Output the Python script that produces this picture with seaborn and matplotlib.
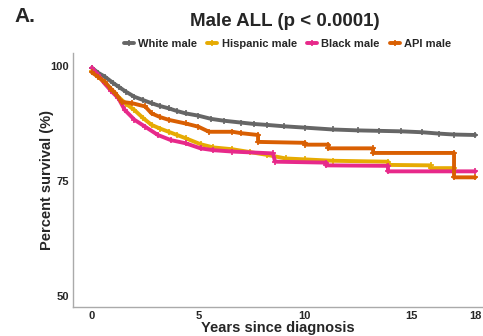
import numpy as np
import pandas as pd
import seaborn as sns
import matplotlib.pyplot as plt

sns.set_style("white")
plt.rcParams['font.family'] = ['Liberation Sans', 'DejaVu Sans']
plt.rcParams['font.weight'] = 'bold'

groups = ["White male", "Hispanic male", "Black male", "API male"]
colors = ["#666666", "#E6AB02", "#E7298A", "#D95F02"]

# survival curves (repeated times = vertical steps)
white_t = [0, 0.3, 0.6, 1.0, 1.25, 1.6, 2.0, 2.4, 2.8, 3.2, 3.6, 4.0, 4.4, 5.0, 5.6, 6.2,
           7.0, 7.6, 8.2, 9.0, 10.0, 11.3, 12.5, 13.5, 14.5, 15.5, 16.3, 17.0, 18.0]
white_s = [99.6, 98.5, 97.7, 96.3, 95.5, 94.4, 93.3, 92.6, 91.9, 91.3, 90.8, 90.2, 89.7, 89.2, 88.5, 88.1,
           87.7, 87.4, 87.2, 86.9, 86.6, 86.2, 86.0, 85.9, 85.8, 85.6, 85.3, 85.1, 85.0]

hisp_t = [0, 0.3, 0.6, 0.9, 1.24, 1.6, 2.0, 2.4, 2.8, 3.2, 3.6, 4.0, 4.4, 5.1, 5.7, 6.6,
          7.4, 8.2, 9.1, 10.0, 11.3, 13.9, 13.9, 15.9, 15.9, 17.0]
hisp_s = [98.8, 97.8, 96.2, 94.8, 93.3, 91.8, 90.4, 88.7, 87.2, 86.4, 85.7, 85.0, 84.3, 83.0, 82.3, 81.9,
          81.3, 80.7, 79.9, 79.7, 79.4, 79.2, 78.5, 78.4, 77.8, 77.8]

black_t = [0, 0.3, 0.6, 0.9, 1.24, 1.55, 2.0, 2.5, 3.1, 3.7, 4.4, 5.1, 5.7, 6.6, 8.5, 8.6,
           11.0, 11.0, 13.9, 13.9, 18.0]
black_s = [99.6, 98.0, 96.2, 94.6, 93.0, 90.4, 88.3, 86.8, 85.0, 83.9, 83.2, 82.1, 81.7, 81.4, 81.0, 79.2,
           79.0, 78.4, 78.3, 77.1, 77.1]

api_t = [0, 0.3, 0.6, 0.9, 1.1, 1.4, 1.9, 2.5, 2.8, 3.2, 3.6, 4.4, 5.0, 5.5, 6.6, 7.0,
         7.8, 7.8, 10.0, 10.0, 11.1, 11.1, 13.2, 13.2, 17.0, 17.0, 18.0]
api_s = [98.6, 97.6, 96.6, 95.0, 94.1, 92.2, 91.9, 91.2, 89.7, 88.9, 88.3, 87.5, 86.8, 85.7, 85.7, 85.4,
         85.0, 83.5, 83.3, 82.9, 82.9, 82.1, 82.1, 81.1, 81.1, 75.8, 75.8]

frames = []
for g, t, s in zip(groups, [white_t, hisp_t, black_t, api_t], [white_s, hisp_s, black_s, api_s]):
    frames.append(pd.DataFrame({"years": t, "survival": s, "group": g}))
df = pd.concat(frames, ignore_index=True)

fig = plt.figure(figsize=(4.83, 3.36), dpi=100)
ax = fig.add_axes([0.151, 0.086, 0.849, 0.756])

sns.lineplot(data=df, x="years", y="survival", hue="group", hue_order=groups,
             palette=colors, estimator=None, sort=False, linewidth=2.8,
             marker="+", markersize=5, markeredgewidth=1.2, ax=ax)
for ln in ax.lines:
    ln.set_markeredgecolor(ln.get_color())

ax.set_xlim(-0.89, 18.36)
ax.set_ylim(47.6, 102.8)
ax.set_xticks([0, 5, 10, 15, 18])
ax.set_yticks([50, 75, 100])
ax.tick_params(length=0, labelsize=8, pad=3)
for lab in ax.get_xticklabels() + ax.get_yticklabels():
    lab.set_fontweight("bold")
ax.set_xlabel("Years since diagnosis", fontsize=10.5, fontweight="bold", labelpad=0)
ax.set_ylabel("Percent survival (%)", fontsize=10.5, fontweight="bold")
ax.yaxis.set_label_coords(-0.045, 0.5)
sns.despine(ax=ax)
for sp in ["left", "bottom"]:
    ax.spines[sp].set_color("#AAAAAA")
    ax.spines[sp].set_linewidth(1)

handles, labels = ax.get_legend_handles_labels()
for h in handles:
    h.set_markeredgecolor(h.get_color())
ax.legend(handles, labels, ncol=4, loc="center", bbox_to_anchor=(0.595, 0.868),
          bbox_transform=fig.transFigure, frameon=False, handlelength=0.9,
          handletextpad=0.4, columnspacing=0.9, prop={"weight": "bold", "size": 8})

fig.text(0.59, 0.935, "Male ALL (p < 0.0001)", ha="center", va="center",
         fontsize=13.5, fontweight="bold")
fig.text(0.03, 0.95, "A.", ha="left", va="center", fontsize=15, fontweight="bold")

fig.savefig("out.png", dpi=100)
